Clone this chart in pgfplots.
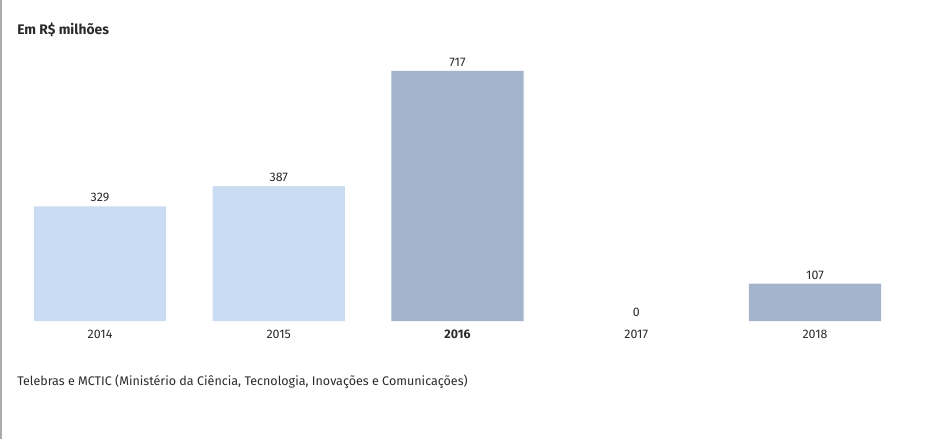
\documentclass[border=0pt]{standalone}
\usepackage{pgfplots}
\pgfplotsset{compat=1.18}
\usepackage{fontspec}
\setmainfont{Fira Sans}
\definecolor{lightbar}{HTML}{C9DCF2}
\definecolor{darkbar}{HTML}{A3B4CB}
\definecolor{txt}{HTML}{2B2B2B}
\begin{document}
\begin{tikzpicture}
\path[use as bounding box] (0,0) rectangle (702.75pt,329.25pt);
\draw[color=black!33, line width=1.2pt] (0.6pt,0) -- (0.6pt,329.25pt);
\node[anchor=west, font=\fontsize{10.4}{12}\selectfont\bfseries, text=txt, inner sep=0pt] at (12.75pt,306.75pt) {Em R\$ milhões};
\node[anchor=west, font=\fontsize{9.4}{11}\selectfont, text=txt, inner sep=0pt] at (12.75pt,42.75pt) {Telebras e MCTIC (Ministério da Ciência, Tecnologia, Inovações e Comunicações)};
\begin{axis}[
  at={(75pt,88.5pt)}, anchor=origin,
  scale only axis, width=670.3pt, height=187.5pt,
  xmin=-0.5, xmax=4.5, ymin=0, ymax=717,
  axis line style={draw=none}, hide y axis,
  xtick={0,1,2,3,4},
  xticklabels={2014,2015,\textbf{2016},2017,2018},
  major tick length=0pt,
  xticklabel style={font=\fontsize{9.3}{11}\selectfont, text=txt, yshift=-3.2pt},
  ybar, bar shift=0pt, bar width=0.7385,
  nodes near coords,
  every node near coord/.append style={font=\fontsize{9.3}{11}\selectfont, text=txt, yshift=-0.5pt},
  clip=false,
  /pgf/number format/assume math mode=true,
]
\addplot[fill=lightbar, draw=none] coordinates {(0,329) (1,387)};
\addplot[fill=darkbar, draw=none] coordinates {(2,717) (4,107)};
\addplot[fill=none, draw=none] coordinates {(3,0)};
\end{axis}
\end{tikzpicture}
\end{document}
